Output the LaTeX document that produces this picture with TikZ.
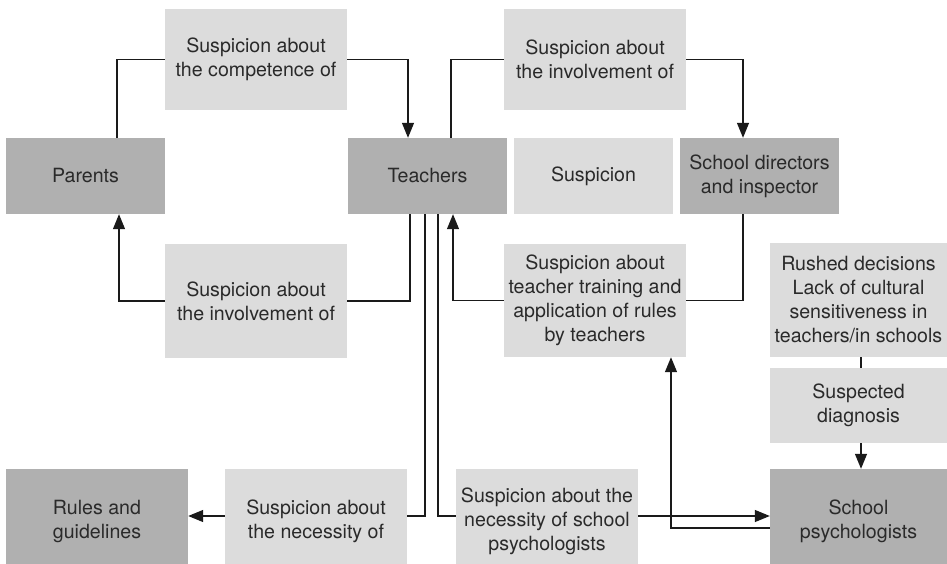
\documentclass[tikz,border=0pt]{standalone}
\usepackage{fontspec}
\setmainfont{TeX Gyre Heros}
\usetikzlibrary{arrows.meta}
\definecolor{boxdark}{HTML}{B0B0B0}
\definecolor{boxlight}{HTML}{DCDCDC}
\definecolor{inktext}{HTML}{2A2A2A}
\definecolor{inkline}{HTML}{1A1A1A}
\tikzset{
  actor/.style={rectangle, fill=boxdark, inner sep=0pt, align=center, text=inktext},
  theme/.style={rectangle, fill=boxlight, inner sep=0pt, align=center, text=inktext},
  link/.style={draw=inkline, line width=1.3pt},
  arr/.style={link, -{Triangle[length=15pt,width=12pt]}}
}
\begin{document}
\begin{tikzpicture}[x=1pt, y=-1pt, font=\fontsize{19.6}{24}\selectfont]
\clip (0,0) rectangle (947,564);
\fill[white] (0,0) rectangle (947,564);

% actors
\node[actor, minimum width=159pt, minimum height=76pt] (parents) at (85.5,176) {Parents};
\node[actor, minimum width=159pt, minimum height=76pt] (teachers) at (427.5,176) {Teachers};
\node[theme, minimum width=159pt, minimum height=76pt] (susp) at (593.5,176) {Suspicion};
\node[actor, minimum width=159pt, minimum height=76pt] (directors) at (759.5,176) {School directors\\and inspector};
\node[actor, minimum width=182pt, minimum height=104pt] (rules) at (97,521) {Rules and\\guidelines};
\node[actor, minimum width=177pt, minimum height=104pt] (psych) at (858.5,521) {School\\psychologists};

% suspicion themes
\node[theme, minimum width=182pt, minimum height=101pt] (comp) at (256,59.5) {Suspicion about\\the competence of};
\node[theme, minimum width=182pt, minimum height=101pt] (invtop) at (595,59.5) {Suspicion about\\the involvement of};
\node[theme, minimum width=182pt, minimum height=114pt] (invbot) at (256,301) {Suspicion about\\the involvement of};
\node[theme, minimum width=182pt, minimum height=113pt] (training) at (595,300.5) {Suspicion about\\teacher training and\\application of rules\\by teachers};
\node[theme, minimum width=177pt, minimum height=114pt] (rushed) at (858.5,300) {Rushed decisions\\Lack of cultural\\sensitiveness in\\teachers/in schools};
\node[theme, minimum width=177pt, minimum height=75pt] (suspected) at (858.5,405.5) {Suspected\\diagnosis};
\node[theme, minimum width=182pt, minimum height=104pt] (necess) at (316,521) {Suspicion about\\the necessity of};
\node[theme, minimum width=182pt, minimum height=104pt] (necsch) at (547,521) {Suspicion about the\\necessity of school\\psychologists};

% parents -> teachers
\draw[link] ([xshift=31.5pt]parents.north) |- (comp.west);
\draw[arr] (comp.east) -| ([xshift=-19.5pt]teachers.north);
% teachers -> directors
\draw[link] ([xshift=23.5pt]teachers.north) |- (invtop.west);
\draw[arr] (invtop.east) -| ([xshift=-16.5pt]directors.north);
% directors -> teachers
\draw[link] ([xshift=-16.5pt]directors.south) |- (training.east);
\draw[arr] (training.west) -| ([xshift=25.5pt]teachers.south);
% teachers -> parents
\draw[link] ([xshift=-17.5pt]teachers.south) |- (invbot.east);
\draw[arr] (invbot.west) -| ([xshift=33.5pt]parents.south);
% teachers -> rules
\draw[link] ([xshift=-2.5pt]teachers.south) |- ([yshift=5pt]necess.east);
\draw[arr] ([yshift=5pt]necess.west) -- ([yshift=5pt]rules.east);
% teachers -> school psychologists
\draw[link] ([xshift=10.5pt]teachers.south) |- ([yshift=5pt]necsch.west);
\draw[arr] ([yshift=5pt]necsch.east) -- ([yshift=5pt]psych.west);
% school psychologists -> teachers
\draw[arr] ([yshift=-7pt]psych.west) -| ([xshift=76pt]training.south);
% diagnosis chain
\draw[link] ([xshift=2.5pt]rushed.south) -- ([xshift=2.5pt]suspected.north);
\draw[arr] ([xshift=2.5pt]suspected.south) -- ([xshift=2.5pt]psych.north);
\end{tikzpicture}
\end{document}
